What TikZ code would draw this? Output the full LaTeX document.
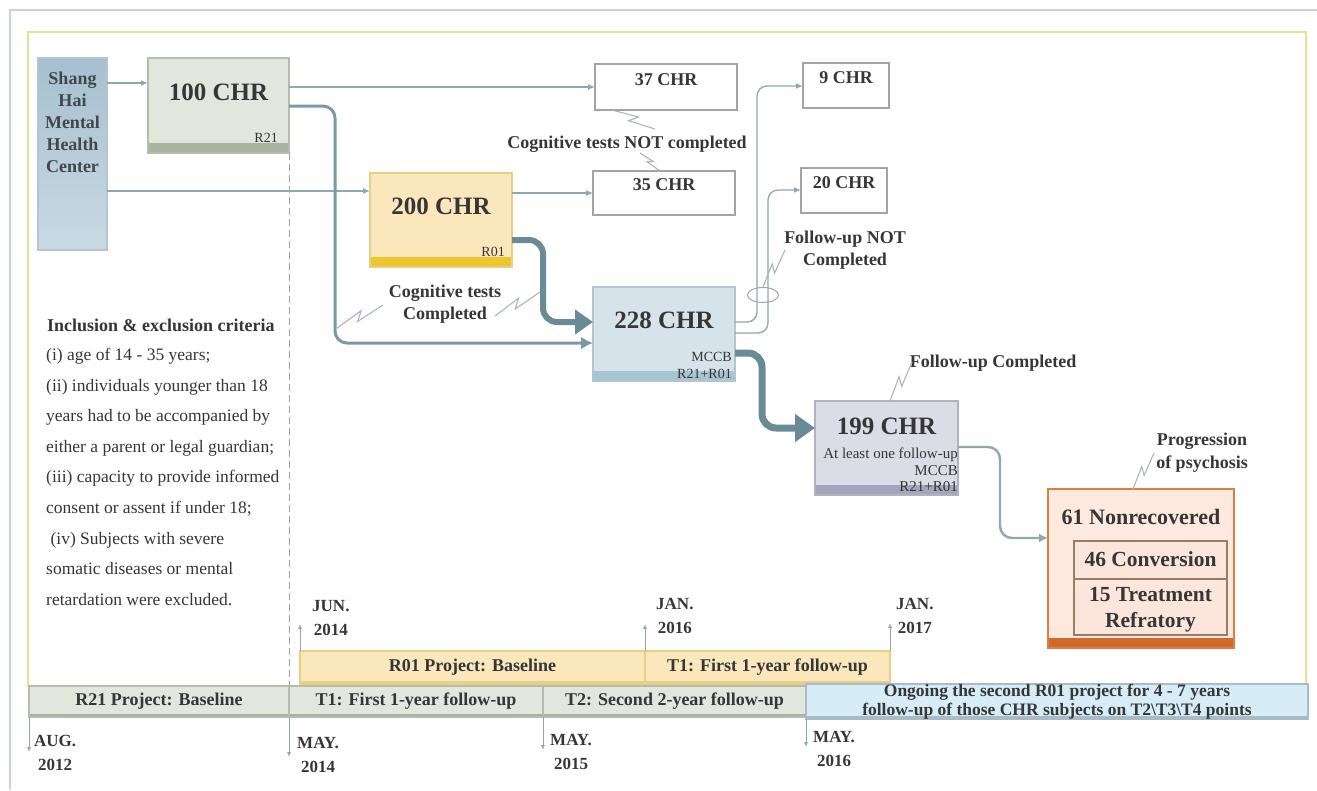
\documentclass[tikz,border=0pt]{standalone}
\usepackage{fontspec}
\setmainfont{Liberation Serif}
\usepackage{tikz}
\usetikzlibrary{arrows.meta,positioning,shapes.geometric,calc}
\definecolor{ink}{HTML}{363636}
\definecolor{srcink}{HTML}{41474C}
\definecolor{flowgrey}{HTML}{8FA7B0}
\definecolor{steel}{HTML}{6A8A96}
\definecolor{midsteel}{HTML}{7C99A4}
\definecolor{zapgrey}{HTML}{A9B6BC}
\definecolor{boxline}{HTML}{A3A3A3}
\definecolor{dashgrey}{HTML}{9AA4A4}
\definecolor{srctop}{HTML}{A5C0CF}
\definecolor{srcbottom}{HTML}{C9DAE3}
\definecolor{sagefill}{HTML}{E3E6DD}
\definecolor{sagebar}{HTML}{A7B39C}
\definecolor{sageline}{HTML}{B5BBAE}
\definecolor{sandfill}{HTML}{FBE7BC}
\definecolor{sandbar}{HTML}{EFC52F}
\definecolor{sandline}{HTML}{E6CF86}
\definecolor{icefill}{HTML}{D6E3EA}
\definecolor{icebar}{HTML}{A8C6D2}
\definecolor{iceline}{HTML}{B3C6CF}
\definecolor{lilacfill}{HTML}{DCDCE6}
\definecolor{lilacbar}{HTML}{A7A5BB}
\definecolor{lilacline}{HTML}{B1B1BF}
\definecolor{peachfill}{HTML}{FDE9DE}
\definecolor{peachline}{HTML}{DD7E47}
\definecolor{subfill}{HTML}{FCE5DB}
\definecolor{brownline}{HTML}{9C7B66}
\definecolor{rust}{HTML}{D2692A}
\definecolor{skyfill}{HTML}{D6ECF6}
\definecolor{skyline}{HTML}{A8BCC6}
\definecolor{frameyellow}{HTML}{E4E09A}
\definecolor{frameteal}{HTML}{C6D8D5}
\tikzset{
  chrbox/.style n args={3}{
    rectangle, draw=#1, fill=#2, line width=1.2pt,
    anchor=north west, inner sep=0pt, outer sep=0pt,
    path picture={\fill[#3] ([yshift=10pt]path picture bounding box.south west)
      rectangle (path picture bounding box.south east);}
  },
  plainbox/.style={rectangle, draw=boxline, fill=white, line width=1.2pt,
    anchor=north west, inner sep=0pt, outer sep=0pt},
  srcbox/.style={rectangle, draw=iceline, top color=srctop, bottom color=srcbottom,
    line width=1.2pt, anchor=north west, inner sep=0pt, outer sep=0pt},
  big/.style={font=\bfseries\fontsize{25}{28}\selectfont, text=ink},
  mid/.style={font=\bfseries\fontsize{18}{21}\selectfont, text=ink},
  note/.style={font=\bfseries\fontsize{18}{21.5}\selectfont, text=ink, align=center, inner sep=1pt},
  tag/.style={font=\fontsize{14}{17}\selectfont, text=ink, anchor=south east,
    inner sep=1pt, align=right},
  flow/.style={draw=flowgrey, line width=1.3pt, -{Latex[length=7pt,width=6pt]}},
  midflow/.style={draw=midsteel, line width=3pt, rounded corners=12pt,
    -{Latex[length=12pt,width=13pt]}},
  bigflow/.style={draw=steel, line width=6pt, rounded corners=14pt,
    -{Triangle[length=18pt,width=24pt]}},
  zap/.style={draw=zapgrey, line width=1.1pt,
    to path={-- ($(\tikztostart)!0.58!9:(\tikztotarget)$)
      -- ($(\tikztostart)!0.42!-9:(\tikztotarget)$) -- (\tikztotarget)}},
  tbar/.style n args={3}{rectangle, draw=#1, fill=#2, line width=1.2pt,
    anchor=north west, inner sep=0pt, outer sep=0pt,
    font=\bfseries\fontsize{18}{21}\selectfont, text=ink,
    path picture={\fill[#3] ([yshift=3pt]path picture bounding box.south west)
      rectangle (path picture bounding box.south east);}},
  datetxt/.style={font=\bfseries\fontsize{17}{24}\selectfont, text=ink,
    align=center, anchor=north west, inner sep=0pt},
  tick/.style={draw=flowgrey, line width=1pt, -{Latex[length=5pt,width=4pt]}},
}
\begin{document}
\begin{tikzpicture}[x=1pt, y=-1pt]
  \useasboundingbox (0,0) rectangle (1317,790);
  % frames
  \draw[frameteal, line width=2pt] (10,790) -- (10,10) -- (1317,10);
  \draw[frameyellow, line width=1.5pt] (28,686) -- (28,32) -- (1306,32) -- (1306,684);

  % source and cohorts
  \node[srcbox, minimum width=69pt, minimum height=192pt] (shmhc) at (38,58) {};
  \node[font=\bfseries\fontsize{18}{22}\selectfont, text=srcink, align=center,
        anchor=north, inner sep=0pt] (shmhct) at ([yshift=-14pt]shmhc.north)
        {Shang\\Hai\\Mental\\Health\\Center};

  \node[chrbox={sageline}{sagefill}{sagebar}, minimum width=141pt, minimum height=95pt] (chr100) at (148,58) {};
  \node[big] (chr100t) at ([yshift=-34pt]chr100.north) {100 CHR};
  \node[tag] (chr100r) at ([xshift=-10pt,yshift=9pt]chr100.south east) {R21};

  \node[chrbox={sandline}{sandfill}{sandbar}, minimum width=142pt, minimum height=94pt] (chr200) at (370,173) {};
  \node[big] (chr200t) at ([yshift=-33pt]chr200.north) {200 CHR};
  \node[tag] (chr200r) at ([xshift=-6pt,yshift=9pt]chr200.south east) {R01};

  \node[chrbox={iceline}{icefill}{icebar}, minimum width=142pt, minimum height=94pt] (chr228) at (593,287) {};
  \node[big] (chr228t) at ([yshift=-33pt]chr228.north) {228 CHR};
  \node[tag] (chr228r) at ([xshift=-2pt,yshift=1pt]chr228.south east) {MCCB\\R21+R01};

  \node[chrbox={lilacline}{lilacfill}{lilacbar}, minimum width=143pt, minimum height=94pt] (chr199) at (815,401) {};
  \node[big] (chr199t) at ([yshift=-25pt]chr199.north) {199 CHR};
  \node[tag, font=\fontsize{15}{16.5}\selectfont, inner sep=0pt] (chr199r)
        at ([yshift=3pt]chr199.south east) {At least one follow-up\\MCCB\\R21+R01};

  \node[plainbox, minimum width=142pt, minimum height=46pt] (chr37) at (595,64) {};
  \node[mid] (chr37t) at ([yshift=-16pt]chr37.north) {37 CHR};
  \node[plainbox, minimum width=142pt, minimum height=44pt] (chr35) at (593,171) {};
  \node[mid] (chr35t) at ([yshift=-14pt]chr35.north) {35 CHR};
  \node[plainbox, minimum width=86pt, minimum height=45pt] (chr9) at (803,63) {};
  \node[mid] (chr9t) at ([yshift=-15pt]chr9.north) {9 CHR};
  \node[plainbox, minimum width=86pt, minimum height=45pt] (chr20) at (801,168) {};
  \node[mid] (chr20t) at ([yshift=-15pt]chr20.north) {20 CHR};

  % outcome
  \node[chrbox={peachline}{peachfill}{rust}, minimum width=186pt, minimum height=159pt] (nonrec) at (1048,489) {};
  \node[big, font=\bfseries\fontsize{22}{26}\selectfont] (nonrect) at ([yshift=-28pt]nonrec.north) {61 Nonrecovered};
  \node[plainbox, draw=brownline, fill=subfill, minimum width=153pt, minimum height=94pt] (subbox) at (1074,541) {};
  \draw[brownline, line width=1.2pt] ([yshift=-38pt]subbox.north west) -- ([yshift=-38pt]subbox.north east);
  \node[big, font=\bfseries\fontsize{21.5}{26}\selectfont] (convt) at ([yshift=-18pt]subbox.north) {46 Conversion};
  \node[big, font=\bfseries\fontsize{21.5}{26}\selectfont, align=center] (refrt) at ([yshift=-69pt]subbox.north) {15 Treatment\\Refratory};

  % connectors
  \draw[flow] ([yshift=-25pt]shmhc.north east) -- ([yshift=-25pt]chr100.north west);
  \draw[flow] ([yshift=-133pt]shmhc.north east) -- ([yshift=-18pt]chr200.north west);
  \draw[flow] ([yshift=-29pt]chr100.north east) -- ([yshift=-23pt]chr37.north west);
  \draw[flow] ([yshift=-20pt]chr200.north east) -- ([yshift=-22pt]chr35.north west);
  \draw[midflow] ([yshift=-48pt]chr100.north east) -- ++(46,0) |- ([yshift=-56pt]chr228.north west);
  \draw[bigflow] ([yshift=-67pt]chr200.north east) -- ++(31,0) |- ([yshift=-35pt]chr228.north west);
  \draw[flow, rounded corners=10pt] ([yshift=-35pt]chr228.north east) -- ++(22,0) |- ([yshift=-23pt]chr9.north west);
  \draw[flow, rounded corners=10pt] ([yshift=-46pt]chr228.north east) -- ++(33,0) |- ([yshift=-22pt]chr20.north west);
  \draw[bigflow, line width=7pt, -{Triangle[length=20pt,width=27pt]}]
        ([yshift=-66pt]chr228.north east) -- ++(27,0) |- ([yshift=-27pt]chr199.north west);
  \draw[flow, line width=2.4pt, rounded corners=12pt, -{Latex[length=9pt,width=9pt]}]
        ([yshift=-46pt]chr199.north east) -- ++(42,0) |- ([yshift=-49pt]nonrec.north west);
  \node[ellipse, draw=boxline, line width=1pt, minimum width=31pt, minimum height=15pt,
        inner sep=0pt] (ring) at (763,295) {};

  % notes
  \node[note] (notcog) at (627,144) {Cognitive tests NOT completed};
  \node[note] (cogdone) at (445,304) {Cognitive tests\\Completed};
  \node[note] (notfu) at (845,250) {Follow-up NOT\\Completed};
  \node[note] (fudone) at (993,363) {Follow-up Completed};
  \node[note, font=\bfseries\fontsize{18}{23}\selectfont] (psych) at (1202,453) {Progression\\of psychosis};
  \coordinate (z37) at (655,129);
  \coordinate (z35) at (640,153);
  \coordinate (zcl) at (337,328);
  \coordinate (zcl2) at (383,305);
  \coordinate (zcr) at (495,316);
  \coordinate (zcr2) at (540,292);
  \coordinate (zfu) at (785,250);
  \coordinate (zfc) at (912,362);
  \coordinate (zpp) at (1154,453);
  \draw[zap] ([xshift=17pt]chr37.south west) to (z37);
  \draw[zap] (z35) to ([xshift=67pt]chr35.north west);
  \draw[zap] (zcl) to (zcl2);
  \draw[zap] (zcr) to (zcr2);
  \draw[zap] (ring.north) to (zfu);
  \draw[zap] ([xshift=75pt]chr199.north west) to (zfc);
  \draw[zap] ([xshift=85pt]nonrec.north west) to (zpp);

  % criteria
  \node[font=\bfseries\fontsize{18}{21}\selectfont, text=ink, anchor=west, inner sep=0pt] (crit) at (47,325)
        {Inclusion \& exclusion criteria};
  \node[font=\fontsize{17.5}{30.6}\selectfont, text=ink, align=left, anchor=north west, inner sep=0pt] (critlist) at (46,348)
        {(i) age of 14 - 35 years;\\
         (ii) individuals younger than 18\\
         years had to be accompanied by\\
         either a parent or legal guardian;\\
         (iii) capacity to provide informed\\
         consent or assent if under 18;\\
         \ (iv) Subjects with severe\\
         somatic diseases or mental\\
         retardation were excluded.};

  % timeline
  \node[tbar={sageline}{sagefill}{sagebar}, minimum width=260pt, minimum height=31pt] (r21bar) at (29,686) {R21 Project: Baseline};
  \node[tbar={sageline}{sagefill}{sagebar}, minimum width=254pt, minimum height=31pt] (t1bar) at (289,686) {T1: First 1-year follow-up};
  \node[tbar={sageline}{sagefill}{sagebar}, minimum width=263pt, minimum height=31pt] (t2bar) at (543,686) {T2: Second 2-year follow-up};
  \node[tbar={sandline}{sandfill}{sandline}, minimum width=345pt, minimum height=33pt] (r01bar) at (300,651) {R01 Project: Baseline};
  \node[tbar={sandline}{sandfill}{sandline}, minimum width=245pt, minimum height=33pt] (t1ybar) at (645,651) {T1: First 1-year follow-up};
  \node[tbar={skyline}{skyfill}{skyline}, minimum width=502pt, minimum height=34pt, align=center,
        font=\bfseries\fontsize{17.5}{19}\selectfont] (ongbar) at (806,684)
        {Ongoing the second R01 project for 4 - 7 years\\follow-up of those CHR subjects on T2\textbackslash T3\textbackslash T4 points};
  \draw[draw=dashgrey, line width=1pt, dash pattern=on 7pt off 4pt] (chr100.south east) -- (t1bar.north west);

  \coordinate (tAug) at ([yshift=-35pt]r21bar.south west);
  \coordinate (tMay14) at ([yshift=-40pt]t1bar.south west);
  \coordinate (tMay15) at ([yshift=-33pt]t2bar.south west);
  \coordinate (tMay16) at ([yshift=-28pt]ongbar.south west);
  \coordinate (tJun14) at ([yshift=27pt]r01bar.north west);
  \coordinate (tJan16) at ([yshift=27pt]t1ybar.north west);
  \coordinate (tJan17) at ([yshift=28pt]t1ybar.north east);
  \draw[tick] (r21bar.south west) -- (tAug);
  \draw[tick] (t1bar.south west) -- (tMay14);
  \draw[tick] (t2bar.south west) -- (tMay15);
  \draw[tick] (ongbar.south west) -- (tMay16);
  \draw[tick] (r01bar.north west) -- (tJun14);
  \draw[tick] (t1ybar.north west) -- (tJan16);
  \draw[tick] (t1ybar.north east) -- (tJan17);
  \node[datetxt] (dAug) at ($(tAug)+(5,-17)$) {AUG.\\2012};
  \node[datetxt] (dMay14) at ($(tMay14)+(8,-20)$) {MAY.\\2014};
  \node[datetxt] (dMay15) at ($(tMay15)+(7,-16)$) {MAY.\\2015};
  \node[datetxt] (dMay16) at ($(tMay16)+(7,-16)$) {MAY.\\2016};
  \node[datetxt] (dJun14) at ($(tJun14)+(12,-24)$) {JUN.\\2014};
  \node[datetxt] (dJan16) at ($(tJan16)+(11,-26)$) {JAN.\\2016};
  \node[datetxt] (dJan17) at ($(tJan17)+(6,-25)$) {JAN.\\2017};
\end{tikzpicture}
\end{document}
